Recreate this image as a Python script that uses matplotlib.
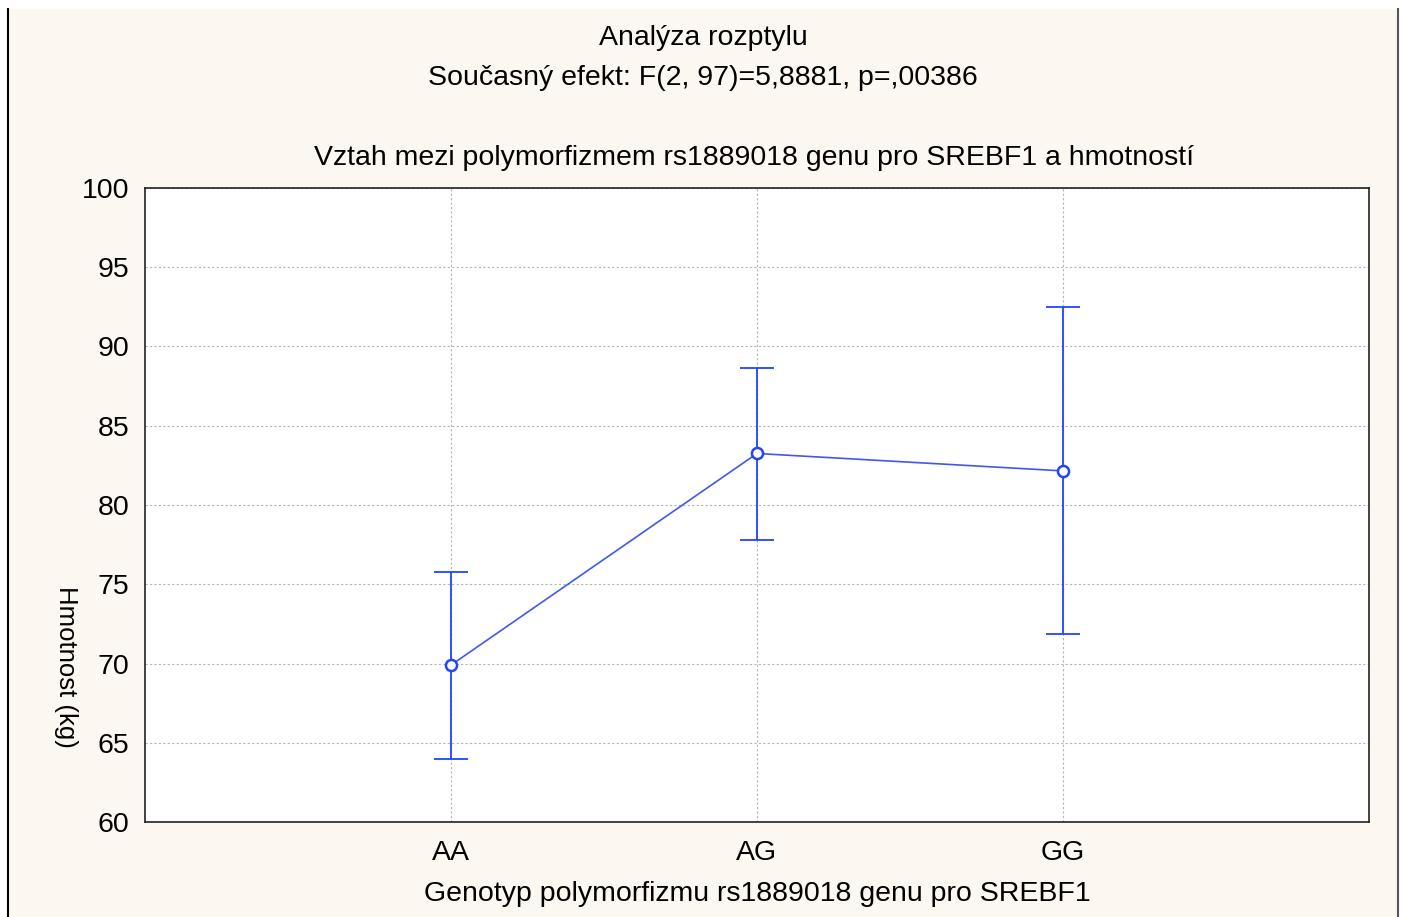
import matplotlib.pyplot as plt
from matplotlib.patches import Rectangle
from matplotlib.lines import Line2D

plt.rcParams['font.family'] = ['Liberation Sans', 'DejaVu Sans']

# data
genotypes = ['AA', 'AG', 'GG']
means = [69.9, 83.25, 82.15]
upper = [75.75, 88.65, 92.5]
lower = [63.95, 77.8, 71.85]

W, H = 1404, 917
FS = 20.5
fig = plt.figure(figsize=(W / 100, H / 100), dpi=100, facecolor='white')

# cream panel behind everything, with the window borders
fig.add_artist(Rectangle((8 / W, 0), (1397 - 8) / W, (H - 9) / H,
                         transform=fig.transFigure, facecolor='#fcf8f1',
                         edgecolor='none', zorder=-10))
fig.add_artist(Line2D([7.5 / W, 7.5 / W], [0, (H - 9) / H], transform=fig.transFigure,
                      color='black', lw=1.5))
fig.add_artist(Line2D([1397.5 / W, 1397.5 / W], [0, (H - 9) / H], transform=fig.transFigure,
                      color='#555555', lw=1.5))

ax = fig.add_axes([145 / W, (H - 822) / H, (1369 - 145) / W, (822 - 188) / H])
ax.set_facecolor('white')

x = list(range(len(genotypes)))
err_lo = [m - l for m, l in zip(means, lower)]
err_hi = [u - m for m, u in zip(means, upper)]

ax.errorbar(x, means, yerr=[err_lo, err_hi], fmt='none', ecolor='#2244ff',
            elinewidth=1.3, capsize=12, capthick=1.3, zorder=3)
ax.plot(x, means, color='#4058f2', lw=1.2, marker='o', markersize=8,
        markerfacecolor='white', markeredgecolor='#2244ff', markeredgewidth=1.8, zorder=4)

ax.set_xlim(-1, 3)
ax.set_ylim(60, 100)
ax.set_xticks(x)
ax.set_xticklabels(genotypes)
ax.set_yticks(range(60, 101, 5))
ax.tick_params(axis='both', length=0, labelsize=FS, colors='black')
ax.tick_params(axis='y', pad=11)
ax.tick_params(axis='x', pad=13)
ax.grid(True, color='#b5b5b5', linestyle=(0, (2, 2)), lw=0.8)
ax.set_axisbelow(True)
for s in ax.spines.values():
    s.set_linewidth(1.2)
    s.set_color('#222222')

fig.text(703 / W, 1 - 38 / H, 'Analýza rozptylu', ha='center', va='center', fontsize=FS)
fig.text(703 / W, 1 - 78 / H, 'Současný efekt: F(2, 97)=5,8881, p=,00386',
         ha='center', va='center', fontsize=FS)
fig.text(754 / W, 1 - 158 / H, 'Vztah mezi polymorfizmem rs1889018 genu pro SREBF1 a hmotností',
         ha='center', va='center', fontsize=FS)
fig.text(757 / W, 1 - 894 / H, 'Genotyp polymorfizmu rs1889018 genu pro SREBF1',
         ha='center', va='center', fontsize=FS)
fig.text(66 / W, 1 - 667 / H, 'Hmotnost (kg)', ha='center', va='center',
         rotation=270, fontsize=18.5)

fig.savefig('out.png', dpi=100, facecolor=fig.get_facecolor())
